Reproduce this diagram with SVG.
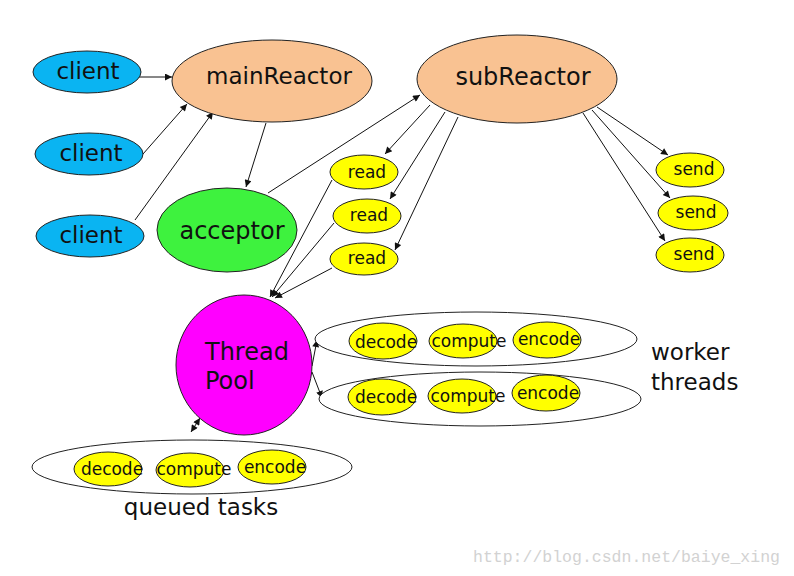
<svg xmlns="http://www.w3.org/2000/svg" width="794" height="576" viewBox="0 0 794 576">
<style>
text{font-family:"DejaVu Sans","Liberation Sans",sans-serif;fill:#111}
.n{stroke:#222;stroke-width:1}
.client{fill:#0ab4f2}
.reactor{fill:#f9c292}
.y{fill:#ffff00}
.c{stroke:#111;stroke-width:1;fill:none}
.big{font-size:23px}
.sm{font-size:17px}
</style>
<defs>
<marker id="ah" viewBox="0 0 10 10" refX="10" refY="5" markerWidth="9" markerHeight="7" markerUnits="userSpaceOnUse" orient="auto-start-reverse">
<path d="M0,0 L10,5 L0,10 z" fill="#111"/>
</marker>
</defs>
<rect width="794" height="576" fill="#fff"/>
<g id="connectors">
<line class="c" x1="138" y1="77" x2="172" y2="77" marker-end="url(#ah)"/>
<line class="c" x1="143" y1="154" x2="187" y2="104" marker-end="url(#ah)"/>
<line class="c" x1="135" y1="220" x2="213" y2="112" marker-end="url(#ah)"/>
<line class="c" x1="266" y1="123" x2="246" y2="187" marker-end="url(#ah)"/>
<line class="c" x1="268" y1="193" x2="420" y2="95" marker-end="url(#ah)"/>
<line class="c" x1="430" y1="105" x2="385" y2="154" marker-end="url(#ah)"/>
<line class="c" x1="445" y1="112" x2="390" y2="199" marker-end="url(#ah)"/>
<line class="c" x1="458" y1="117" x2="395" y2="250" marker-end="url(#ah)"/>
<line class="c" x1="332" y1="180" x2="270" y2="297" marker-end="url(#ah)"/>
<line class="c" x1="334" y1="223" x2="272" y2="297" marker-end="url(#ah)"/>
<line class="c" x1="332" y1="268" x2="275" y2="298" marker-end="url(#ah)"/>
<line class="c" x1="597" y1="107" x2="668" y2="155" marker-end="url(#ah)"/>
<line class="c" x1="592" y1="110" x2="670" y2="198" marker-end="url(#ah)"/>
<line class="c" x1="583" y1="113" x2="665" y2="241" marker-end="url(#ah)"/>
<line class="c" x1="312" y1="366" x2="317" y2="340" marker-end="url(#ah)"/>
<line class="c" x1="312" y1="372" x2="322" y2="398" marker-end="url(#ah)"/>
<line class="c" x1="191" y1="432" x2="200" y2="418" marker-start="url(#ah)" marker-end="url(#ah)"/>
</g>
<g id="client1"><ellipse class="n client" cx="87" cy="72" rx="54" ry="21"/><text class="big" x="88" y="79" text-anchor="middle">client</text></g>
<g id="client2"><ellipse class="n client" cx="89" cy="154" rx="54" ry="21"/><text class="big" x="91" y="161" text-anchor="middle">client</text></g>
<g id="client3"><ellipse class="n client" cx="90" cy="236" rx="54" ry="21"/><text class="big" x="91" y="243" text-anchor="middle">client</text></g>
<g id="mainReactor"><ellipse class="n reactor" cx="272" cy="81" rx="100" ry="41"/><text class="big" x="279" y="84" text-anchor="middle">mainReactor</text></g>
<g id="acceptor"><ellipse class="n" fill="#3ef23e" cx="227" cy="230" rx="70" ry="42"/><text style="font-size:24px" x="232" y="239" text-anchor="middle">acceptor</text></g>
<g id="subReactor"><ellipse class="n reactor" cx="517" cy="79" rx="100" ry="44"/><text style="font-size:24px" x="523" y="85" text-anchor="middle">subReactor</text></g>
<g id="read1"><ellipse class="n y" cx="364" cy="172" rx="34" ry="17"/><text class="sm" x="367" y="178" text-anchor="middle">read</text></g>
<g id="read2"><ellipse class="n y" cx="367" cy="216" rx="34" ry="17"/><text class="sm" x="369" y="221" text-anchor="middle">read</text></g>
<g id="read3"><ellipse class="n y" cx="364" cy="259" rx="34" ry="16"/><text class="sm" x="367" y="264" text-anchor="middle">read</text></g>
<g id="send1"><ellipse class="n y" cx="690" cy="170" rx="34" ry="17"/><text class="sm" x="694" y="175" text-anchor="middle">send</text></g>
<g id="send2"><ellipse class="n y" cx="693" cy="213" rx="35" ry="17"/><text class="sm" x="696" y="218" text-anchor="middle">send</text></g>
<g id="send3"><ellipse class="n y" cx="690" cy="255" rx="34" ry="17"/><text class="sm" x="694" y="260" text-anchor="middle">send</text></g>
<g id="threadPool"><ellipse class="n" fill="#ff00ff" cx="244" cy="365" rx="68" ry="70"/><text style="font-size:24px" x="205" y="360">Thread</text><text style="font-size:24px" x="205" y="389">Pool</text></g>
<g id="worker1">
<ellipse class="n" fill="#fff" cx="476" cy="339" rx="161" ry="27"/>
<ellipse class="n y" cx="383" cy="341" rx="34" ry="18"/>
<ellipse class="n y" cx="463" cy="341" rx="34" ry="17"/>
<ellipse class="n y" cx="547" cy="340" rx="34" ry="18"/>
<text class="sm" x="386" y="348" text-anchor="middle">decode</text>
<text class="sm" x="469" y="347" text-anchor="middle">compute</text>
<text class="sm" x="549" y="345" text-anchor="middle">encode</text>
</g>
<g id="worker2">
<ellipse class="n" fill="#fff" cx="480" cy="399" rx="161" ry="27"/>
<ellipse class="n y" cx="382" cy="397" rx="34" ry="18"/>
<ellipse class="n y" cx="462" cy="396" rx="34" ry="17"/>
<ellipse class="n y" cx="546" cy="393" rx="34" ry="18"/>
<text class="sm" x="386" y="403" text-anchor="middle">decode</text>
<text class="sm" x="468" y="402" text-anchor="middle">compute</text>
<text class="sm" x="548" y="399" text-anchor="middle">encode</text>
</g>
<g id="workerLabel"><text class="big" x="651" y="360">worker</text><text class="big" x="651" y="390">threads</text></g>
<g id="queued">
<ellipse class="n" fill="#fff" cx="192" cy="467" rx="160" ry="27"/>
<ellipse class="n y" cx="108" cy="469" rx="34" ry="17"/>
<ellipse class="n y" cx="190" cy="470" rx="34" ry="17"/>
<ellipse class="n y" cx="272" cy="467" rx="34" ry="17"/>
<text class="sm" x="112" y="475" text-anchor="middle">decode</text>
<text class="sm" x="194" y="475" text-anchor="middle">compute</text>
<text class="sm" x="275" y="473" text-anchor="middle">encode</text>
<text class="big" x="201" y="515" text-anchor="middle">queued tasks</text>
</g>
<text x="473" y="562" style="font-family:'Liberation Mono','DejaVu Sans Mono',monospace;font-size:16.5px;fill:#d2d2d2">http://blog.csdn.net/baiye_xing</text>
</svg>
